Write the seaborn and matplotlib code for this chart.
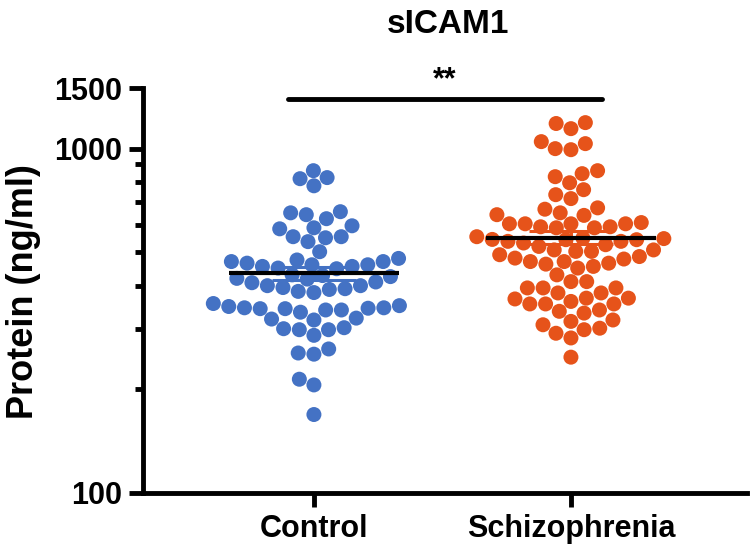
import numpy as np
import pandas as pd
import matplotlib
matplotlib.use("Agg")
import matplotlib.pyplot as plt
import seaborn as sns
from matplotlib.ticker import FixedLocator, FixedFormatter, NullFormatter

# ---- data ----
categories = ["Control", "Schizophrenia"]
control = [818, 780, 824, 863,
           651, 626, 597, 643, 656,
           589, 555, 551, 537, 555, 585,
           502,
           475, 470, 460, 455, 450, 448, 455, 460, 465, 470, 480,
           430, 428, 425,
           420, 410, 400, 395, 390, 385, 382, 392, 400, 408, 418,
           355, 345, 344, 343, 340, 335, 320, 318, 322, 340, 343, 345, 348, 350,
           300, 298, 287, 298, 302,
           255, 262, 253,
           214, 206,
           169]
schizophrenia = [1143, 1190, 1183,
                 1034, 993, 1000, 1048,
                 829, 863, 846, 796,
                 760, 716, 735,
                 673, 667,
                 651, 605, 593, 589, 640, 555, 605, 605, 610, 589, 593, 643, 605,
                 544, 538, 532, 520, 508, 508, 526, 538, 544, 550, 548, 545,
                 503, 486, 478, 470, 462, 450, 430, 455, 465, 470, 481, 492, 503,
                 411, 394, 381, 366, 354, 354, 354, 360, 368, 368, 381, 394, 394, 411,
                 340, 333, 315, 291, 301, 298, 308, 282, 318, 337,
                 248]
colors = ["#4472C4", "#E6531A"]
y_major = [100, 1000, 1500]
y_major_labels = ["100", "1000", "1500"]
y_minor = [200, 300, 400, 500, 600, 700, 800, 900]
title = "sICAM1"
ylabel = "Protein (ng/ml)"
sig_text = "**"

sns.set_theme(style="ticks")
plt.rcParams["font.family"] = ["Liberation Sans", "DejaVu Sans"]

fig = plt.figure(figsize=(7.5, 5.47), dpi=100)
ax = fig.add_axes([143 / 750, 1 - 493 / 547, 604 / 750, (493 - 88) / 547])

df = pd.DataFrame({
    "group": ["Control"] * len(control) + ["Schizophrenia"] * len(schizophrenia),
    "value": control + schizophrenia,
})

sns.swarmplot(data=df, x="group", y="value", hue="group", order=categories,
              hue_order=categories, palette=colors, size=10.8, linewidth=0,
              log_scale=True, legend=False, ax=ax, zorder=2)

# mean and SEM
for i, vals in enumerate([control, schizophrenia]):
    v = np.asarray(vals, dtype=float)
    m = v.mean()
    sem = v.std(ddof=1) / np.sqrt(len(v))
    ax.errorbar(i, m, yerr=sem, color=colors[i], capsize=30, elinewidth=2.2,
                capthick=2.2, zorder=4, fmt="none")
    ax.hlines(m, i - 0.33, i + 0.33, color="black", lw=3, zorder=5)

ax.set_xlim(-0.665, 1.685)
ax.set_ylim(100, 1500)
ax.yaxis.set_major_locator(FixedLocator(y_major))
ax.yaxis.set_major_formatter(FixedFormatter(y_major_labels))
ax.yaxis.set_minor_locator(FixedLocator(y_minor))
ax.yaxis.set_minor_formatter(NullFormatter())

for s in ["top", "right"]:
    ax.spines[s].set_visible(False)
for s in ["left", "bottom"]:
    ax.spines[s].set_linewidth(3.5)
    ax.spines[s].set_color("black")

ax.tick_params(axis="both", which="major", length=10, width=3.5, color="black",
               labelsize=22, pad=5)
ax.tick_params(axis="y", which="minor", length=6, width=3.5, color="black")
for lab in ax.get_xticklabels() + ax.get_yticklabels():
    lab.set_fontweight("bold")
    lab.set_color("black")
ax.set_xlabel("")
ax.set_ylabel("")

# significance bar
ax.plot([-0.10, 1.12], [1397, 1397], color="black", lw=3.5, clip_on=False,
        solid_capstyle="round", zorder=6)
ax.text(0.51, 1425, sig_text, ha="center", va="bottom", fontsize=22,
        fontweight="bold", color="black", clip_on=False)

fig.text(448 / 750, 1 - 33 / 547, title, ha="center", va="baseline",
         fontsize=24, fontweight="bold", color="black")
fig.text(24 / 750, 1 - 292 / 547, ylabel, ha="center", va="center",
         rotation=90, fontsize=26, fontweight="bold", color="black")

fig.savefig("out.png", dpi=100, facecolor="white")
